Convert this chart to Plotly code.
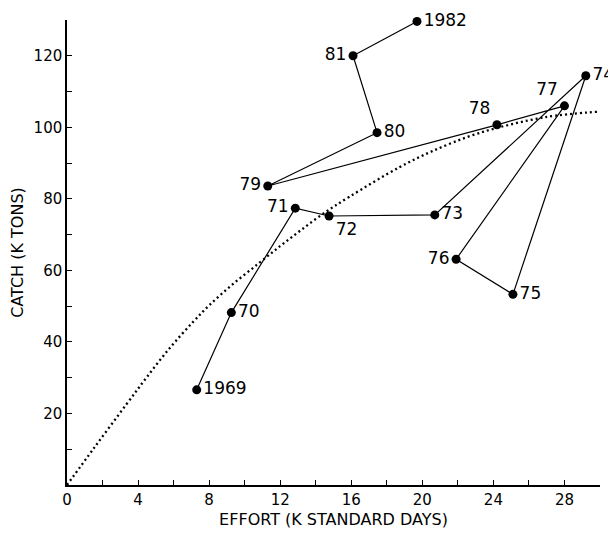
import plotly.graph_objects as go

# Observed catch vs effort by year
years = ["1969", "70", "71", "72", "73", "74", "75", "76", "77", "78", "79", "80", "81", "1982"]
effort = [7.3, 9.25, 12.85, 14.75, 20.7, 29.2, 25.1, 21.9, 28.0, 24.2, 11.3, 17.45, 16.1, 19.7]
catch = [26.6, 48.2, 77.4, 75.2, 75.5, 114.4, 53.3, 63.1, 106.0, 100.7, 83.6, 98.5, 120.0, 129.6]
label_pos = ["middle right", "middle right", "middle left", "bottom right", "middle right",
             "middle right", "middle right", "middle left", "top left", "top left",
             "middle left", "middle right", "middle left", "middle right"]

# Fitted production curve (dotted)
curve_effort = [0.0, 1.5, 3.35, 4.5, 5.8, 7.1, 8.0, 9.3, 10.8, 12.0, 13.1, 14.4, 15.9, 18.7, 20.5, 23.2, 26.9, 30.0]
curve_catch = [0.0, 10.2, 22.6, 30.2, 38.4, 45.6, 50.2, 56.0, 62.0, 66.8, 71.0, 75.8, 80.6, 88.8, 93.2, 98.4, 102.8, 104.4]

x_ticks = list(range(0, 31, 2))
x_ticktext = [str(v) if v % 4 == 0 else "" for v in x_ticks]
y_ticks = list(range(0, 131, 10))
y_ticktext = [str(v) if (v % 20 == 0 and v > 0) else "" for v in y_ticks]

FONT = "DejaVu Sans"

fig = go.Figure()
fig.add_trace(go.Scatter(
    x=curve_effort, y=curve_catch, mode="lines",
    line=dict(color="black", width=2.3, dash="2px,3px", shape="spline", smoothing=1.0),
    hoverinfo="skip", showlegend=False, cliponaxis=False,
))
fig.add_trace(go.Scatter(
    x=effort, y=catch, mode="lines+markers+text",
    line=dict(color="black", width=1.2),
    marker=dict(color="black", size=9),
    text=years, textposition=label_pos,
    textfont=dict(family=FONT, size=17, color="black"),
    showlegend=False, cliponaxis=False,
))

axis_common = dict(
    showline=True, linecolor="black", linewidth=1.5, mirror=False,
    ticks="inside", ticklen=5, tickwidth=1.2, tickcolor="black",
    showgrid=False, zeroline=False,
    tickfont=dict(family=FONT, size=15, color="black"),
    tickmode="array",
)
fig.update_xaxes(range=[0, 30], tickvals=x_ticks, ticktext=x_ticktext,
                 title=dict(text="EFFORT (K STANDARD DAYS)", font=dict(family=FONT, size=16, color="black"), standoff=6),
                 **axis_common)
fig.update_yaxes(range=[0, 130], tickvals=y_ticks, ticktext=y_ticktext,
                 title=dict(text="CATCH (K TONS)", font=dict(family=FONT, size=16, color="black"), standoff=14),
                 **axis_common)
fig.update_layout(
    width=608, height=529,
    margin=dict(l=59, r=16, t=12, b=52, autoexpand=False),
    plot_bgcolor="white", paper_bgcolor="white",
)
fig.write_html("out.html")
